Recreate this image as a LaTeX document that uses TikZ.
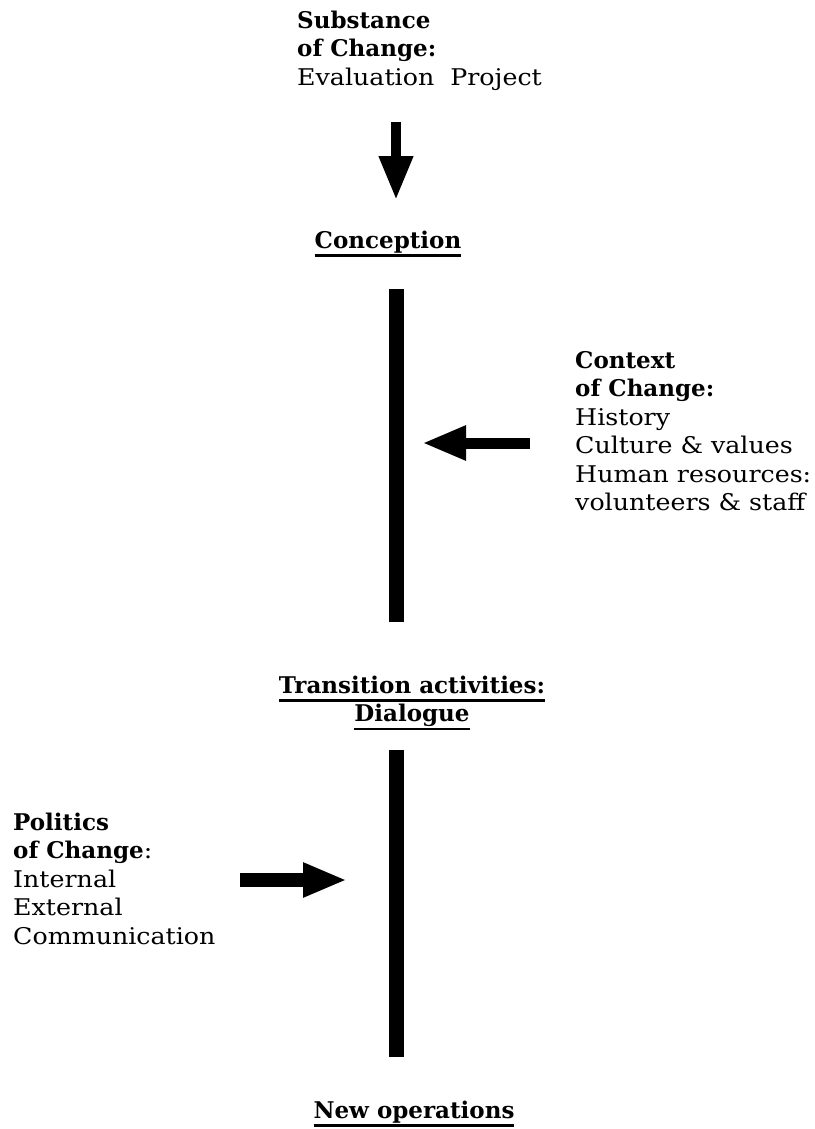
\documentclass[tikz,border=0pt]{standalone}
\usepackage{fontspec}
\setmainfont{DejaVu Serif}[FakeStretch=1.1, BoldFeatures={FakeStretch=1.0}]
\usetikzlibrary{arrows.meta}

\newcommand{\ulhead}[1]{\setbox0\hbox{#1}\rlap{\rule[-8.5pt]{\wd0}{2.6pt}}\box0}

\tikzset{
  txt/.style={inner sep=0pt, align=left, font=\fontsize{23}{28.5}\selectfont},
  bar/.style={line width=15pt, line cap=butt},
  fatarrow/.style={line width=#1, -{Triangle[length=44pt, width=32pt]}},
}

\begin{document}
\begin{tikzpicture}[x=1pt, y=-1pt]
\useasboundingbox (0,0) rectangle (814,1129);

% texts
\node[txt, anchor=north west] (subst) at (297,10.5)
  {\textbf{Substance}\\\textbf{of Change:}\\Evaluation\ \ Project};
\node[txt, anchor=base] (concep) at (388,248) {\ulhead{\textbf{Conception}}};
\node[txt, anchor=north west] (context) at (575,351)
  {\textbf{Context}\\\textbf{of Change:}\\History\\Culture \& values\\Human resources:\\volunteers \& staff};
\node[txt, align=center, anchor=north] (trans) at (412,675.5)
  {\ulhead{\textbf{Transition activities:}}\\\ulhead{\textbf{Dialogue}}};
\node[txt, anchor=north west] (politics) at (13,812.5)
  {\textbf{Politics}\\\textbf{of Change}:\\Internal\\External\\Communication};
\node[txt, anchor=base] (newops) at (414,1118) {\ulhead{\textbf{New operations}}};

% bars
\coordinate (b1top) at (396.5,289);
\coordinate (b1bot) at (396.5,622);
\coordinate (b2top) at (396.5,750);
\coordinate (b2bot) at (396.5,1057);
\draw[bar] (b1top) -- (b1bot);
\draw[bar] (b2top) -- (b2bot);

% arrows
\coordinate (downtail) at (396,122);
\coordinate (downtip) at (396,200);
\coordinate (ctxtail) at (530,443);
\coordinate (ctxtip) at (422,443);
\coordinate (poltail) at (240,880);
\coordinate (poltip) at (347,880);
\draw[fatarrow=10pt] (downtail) -- (downtip);
\draw[fatarrow=11pt] (ctxtail) -- (ctxtip);
\draw[fatarrow=14pt] (poltail) -- (poltip);
\end{tikzpicture}
\end{document}
